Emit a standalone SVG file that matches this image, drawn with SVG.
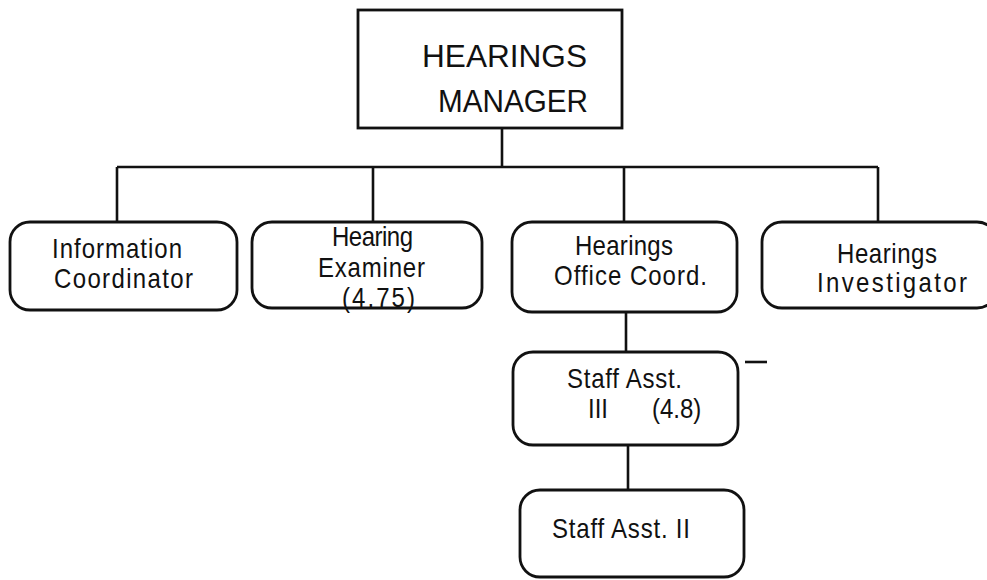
<svg xmlns="http://www.w3.org/2000/svg" width="987" height="580" viewBox="0 0 987 580">
<style>
.box{fill:#fff;stroke:#111;stroke-width:2.8}
.ln{fill:none;stroke:#111;stroke-width:2.6}
.t{font-family:"Liberation Sans",Arial,Helvetica,sans-serif;font-size:24px;fill:#111}
.title{font-family:"Liberation Sans",Arial,Helvetica,sans-serif;font-size:31px;fill:#111}
</style>
<rect width="987" height="580" fill="#fff"/>
<g id="connectors">
<path class="ln" d="M502 128V167M117 167H878M117 167V222M373 167V222M624 167V222M878 167V222M626 312V352M628 445V490"/>
<path class="ln" d="M745 362H767"/>
</g>
<g id="manager">
<rect class="box" x="358" y="10" width="264" height="118"/>
<text class="title" x="422" y="67" textLength="165" lengthAdjust="spacingAndGlyphs">HEARINGS</text>
<text class="title" x="438" y="112" textLength="150" lengthAdjust="spacingAndGlyphs">MANAGER</text>
</g>
<g id="info-coord">
<rect class="box" x="10" y="222" width="227" height="88" rx="20"/>
<text class="t" transform="translate(0 258) scale(1 1.16)" x="52" textLength="130">Information</text>
<text class="t" transform="translate(0 288) scale(1 1.16)" x="54" textLength="139">Coordinator</text>
</g>
<g id="hearing-examiner">
<rect class="box" x="252" y="222" width="230" height="86" rx="20"/>
<text class="t" transform="translate(0 246) scale(1 1.16)" x="332" textLength="81">Hearing</text>
<text class="t" transform="translate(0 277) scale(1 1.16)" x="318" textLength="107">Examiner</text>
<text class="t" transform="translate(0 307) scale(1 1.16)" x="342" textLength="73">(4.75)</text>
</g>
<g id="office-coord">
<rect class="box" x="512" y="222" width="225" height="90" rx="20"/>
<text class="t" transform="translate(0 255) scale(1 1.16)" x="575" textLength="98">Hearings</text>
<text class="t" transform="translate(0 285) scale(1 1.16)" x="554" textLength="153">Office Coord.</text>
</g>
<g id="investigator">
<rect class="box" x="762" y="222" width="235" height="86" rx="20"/>
<text class="t" transform="translate(0 263) scale(1 1.16)" x="837" textLength="100">Hearings</text>
<text class="t" transform="translate(0 292) scale(1 1.16)" x="817" textLength="150">Investigator</text>
</g>
<g id="staff-asst-3">
<rect class="box" x="513" y="352" width="225" height="93" rx="20"/>
<text class="t" transform="translate(0 388) scale(1 1.16)" x="567" textLength="115">Staff Asst.</text>
<text class="t" transform="translate(0 418) scale(1 1.16)"><tspan x="588">III</tspan><tspan x="652">(4.8)</tspan></text>
</g>
<g id="staff-asst-2">
<rect class="box" x="520" y="490" width="224" height="87" rx="20"/>
<text class="t" transform="translate(0 538) scale(1 1.16)" x="552" textLength="138">Staff Asst. II</text>
</g>
</svg>
